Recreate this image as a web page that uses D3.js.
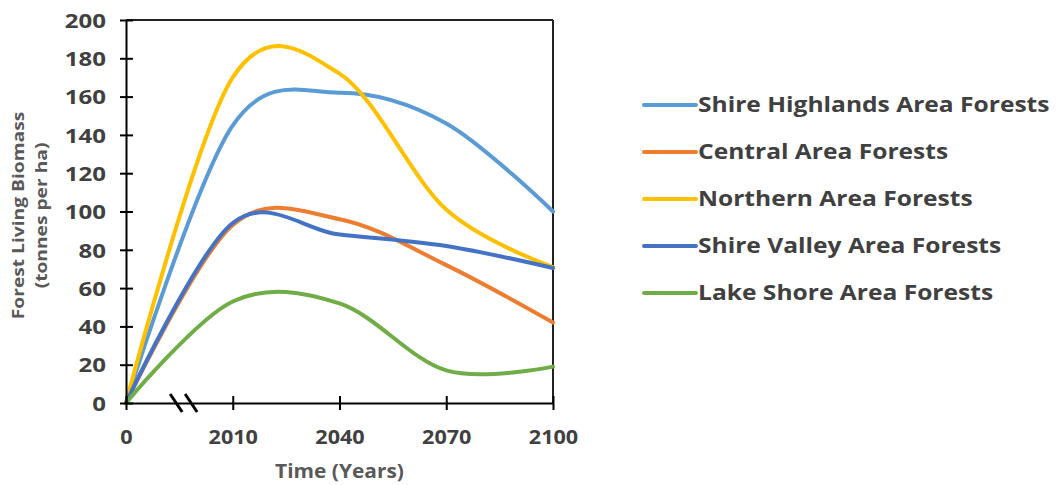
<!DOCTYPE html>
<html>
<head>
<meta charset="utf-8">
<script src="https://cdn.jsdelivr.net/npm/d3@7"></script>
<style>
  html, body { margin: 0; padding: 0; background: #ffffff; }
  svg { display: block; }
  text { font-family: "Open Sans", "DejaVu Sans", sans-serif; font-weight: 700; }
</style>
</head>
<body>
<svg id="chart" width="1057" height="485"></svg>
<script>
// ---- Data ----
const years = [0, 2010, 2040, 2070, 2100];
const xTickValues = [0, 2010, 2040, 2070, 2100];
const xTickLabels = ["0", "2010", "2040", "2070", "2100"];
const yTickValues = [0, 20, 40, 60, 80, 100, 120, 140, 160, 180, 200];
const seriesNames = [
  "Shire Highlands Area Forests",
  "Central Area Forests",
  "Northern Area Forests",
  "Shire Valley Area Forests",
  "Lake Shore Area Forests"
];
const shireHighlands = [0, 145, 162, 146, 100];
const central        = [0, 93, 96, 72, 42];
const northern       = [0, 170, 172, 101, 71];
const shireValley    = [0, 94, 88, 82, 70.5];
const lakeShore      = [0, 53, 52, 17, 19];
const seriesColors = ["#5B9BD5", "#ED7D31", "#FFC000", "#4472C4", "#70AD47"];
const xTitle = "Time (Years)";
const yTitleLines = ["Forest Living Biomass", "(tonnes per ha)"];

const seriesValues = [shireHighlands, central, northern, shireValley, lakeShore];

// ---- Layout ----
const svg = d3.select("#chart");
const plot = { left: 126, right: 553, top: 20, bottom: 403 };

// horizontal stretch helper (the reference text is set wide)
function stretch(sel, k) {
  sel.each(function () {
    const w = this.getComputedTextLength();
    d3.select(this).attr("textLength", w * k).attr("lengthAdjust", "spacingAndGlyphs");
  });
}

// broken x axis: 0 .. 2010 occupies the same width as a 30-year step
const x = d3.scaleLinear()
  .domain([0, 2010, 2100])
  .range([plot.left, plot.left + (plot.right - plot.left) / 4, plot.right]);
const y = d3.scaleLinear().domain([0, 200]).range([plot.bottom, plot.top]);

const axisColor = "#000000";
const labelColor = "#404040";

// frame: top and right border
svg.append("line")
  .attr("x1", plot.left).attr("x2", plot.right)
  .attr("y1", plot.top).attr("y2", plot.top)
  .attr("stroke", "#222").attr("stroke-width", 2);
svg.append("line")
  .attr("x1", plot.right).attr("x2", plot.right)
  .attr("y1", plot.top).attr("y2", plot.bottom)
  .attr("stroke", "#222").attr("stroke-width", 2);

// lines
const line = d3.line()
  .x((d, i) => x(years[i]))
  .y(d => y(d))
  .curve(d3.curveCardinal.tension(0));

svg.append("g").selectAll("path")
  .data(seriesValues)
  .join("path")
  .attr("d", d => line(d))
  .attr("fill", "none")
  .attr("stroke", (d, i) => seriesColors[i])
  .attr("stroke-width", 4)
  .attr("stroke-linecap", "round");

// y axis
const yAxis = d3.axisLeft(y).tickValues(yTickValues).tickSize(0).tickPadding(0).tickFormat(d3.format("d"));
const gy = svg.append("g").attr("transform", `translate(${plot.left},0)`).call(yAxis);
gy.select(".domain").attr("stroke", axisColor).attr("stroke-width", 2);
gy.selectAll(".tick line").remove();
gy.selectAll(".tick").append("line")
  .attr("x1", -6).attr("x2", 7).attr("y1", 0).attr("y2", 0)
  .attr("stroke", axisColor).attr("stroke-width", 2);
gy.selectAll(".tick text")
  .attr("x", -20)
  .attr("dy", "0.36em")
  .attr("fill", labelColor)
  .style("font-size", "20px")
  .style("font-family", "'Open Sans', sans-serif")
  .style("font-weight", 700);
stretch(gy.selectAll(".tick text"), 1.2);

// x axis
const xAxis = d3.axisBottom(x).tickValues(xTickValues).tickSize(0).tickPadding(0)
  .tickFormat((d, i) => xTickLabels[i]);
const gx = svg.append("g").attr("transform", `translate(0,${plot.bottom})`).call(xAxis);
gx.select(".domain").attr("stroke", axisColor).attr("stroke-width", 2);
gx.selectAll(".tick line").remove();
gx.selectAll(".tick").append("line")
  .attr("x1", 0).attr("x2", 0).attr("y1", -7).attr("y2", 7)
  .attr("stroke", axisColor).attr("stroke-width", 2);
gx.selectAll(".tick text")
  .attr("y", 41)
  .attr("dy", 0)
  .attr("fill", labelColor)
  .style("font-size", "20px")
  .style("font-family", "'Open Sans', sans-serif")
  .style("font-weight", 700);
stretch(gx.selectAll(".tick text"), 1.08);

// axis break marks between 0 and 2010
const segW = x(2010) - x(0);
const b1 = x(0) + segW * 0.47, b2 = x(0) + segW * 0.61;
[b1, b2].forEach(bx => {
  svg.append("line")
    .attr("x1", bx - 6).attr("y1", plot.bottom - 9)
    .attr("x2", bx + 6).attr("y2", plot.bottom + 9)
    .attr("stroke", "#000").attr("stroke-width", 3);
});

// axis titles
const xt = svg.append("text")
  .attr("x", (plot.left + plot.right) / 2)
  .attr("y", 478)
  .attr("text-anchor", "middle")
  .attr("fill", "#595959")
  .style("font-size", "19px")
  .text(xTitle);
stretch(xt, 1.1);

const ytG = svg.append("g")
  .attr("transform", `translate(24,${(plot.top + plot.bottom) / 2 + 4}) rotate(-90)`);
yTitleLines.forEach((t, i) => {
  const tt = ytG.append("text")
    .attr("x", 0).attr("y", i * 23)
    .attr("text-anchor", "middle")
    .attr("fill", "#595959")
    .style("font-size", "16px")
    .text(t);
  stretch(tt, 1.2);
});

// legend
const legend = svg.append("g").attr("transform", "translate(644,105)");
const rowH = 47;
seriesNames.forEach((name, i) => {
  const g = legend.append("g").attr("transform", `translate(0,${i * rowH})`);
  g.append("line")
    .attr("x1", 0).attr("x2", 52).attr("y1", 0).attr("y2", 0)
    .attr("stroke", seriesColors[i]).attr("stroke-width", 4)
    .attr("stroke-linecap", "round");
  const tx = g.append("text")
    .attr("x", 54).attr("y", 0).attr("dy", "0.35em")
    .attr("fill", labelColor)
    .style("font-size", "21px")
    .text(name);
  stretch(tx, 1.17);
});
</script>
</body>
</html>
